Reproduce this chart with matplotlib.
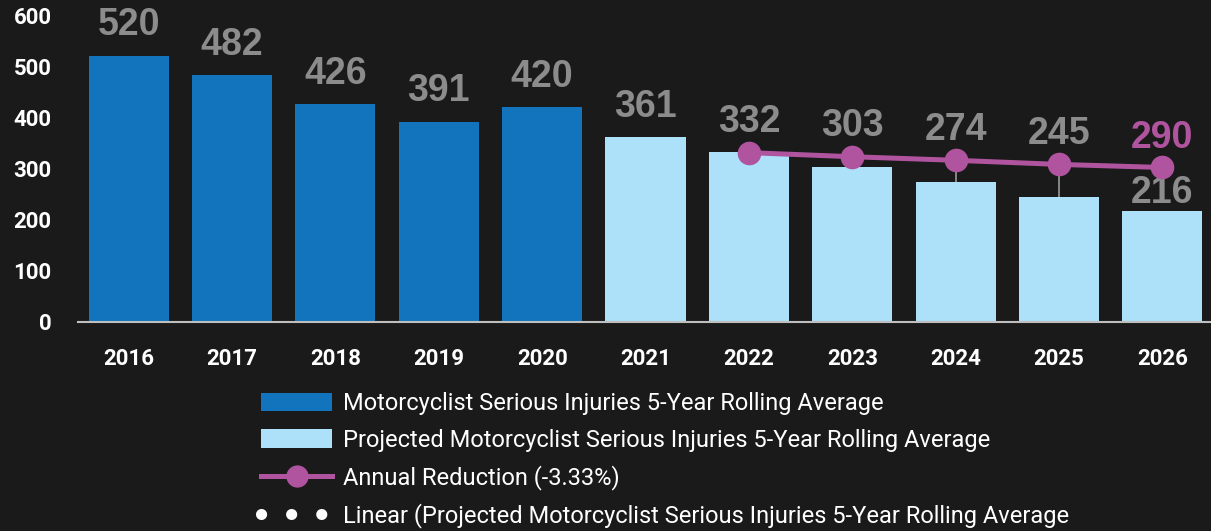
import numpy as np
import matplotlib.pyplot as plt
from matplotlib.lines import Line2D
from matplotlib.patches import Patch

# Datos
years = ['2016', '2017', '2018', '2019', '2020', '2021', '2022', '2023', '2024', '2025', '2026']
actual = [520, 482, 426, 391, 420]
projected = [361, 332, 303, 274, 245, 216]
line_years = ['2022', '2023', '2024', '2025', '2026']
reduction = [331, 323, 316, 308, 302]
reduction_end_label = '290'

bg = '#1a1a1a'
dark_blue = '#1174bd'
light_blue = '#ade0f9'
magenta = '#b054a0'
label_gray = '#8c8c8c'

plt.rcParams['font.family'] = ['Roboto', 'DejaVu Sans']

fig = plt.figure(figsize=(12.11, 5.31), dpi=100, facecolor=bg)
ax = fig.add_axes([78 / 1211, (531 - 322) / 531, 1 - 78 / 1211, 307 / 531])
ax.set_facecolor(bg)

x = np.arange(len(years))
n_act = len(actual)
values = actual + projected
colors = [dark_blue] * n_act + [light_blue] * len(projected)
ax.bar(x, values, width=0.775, color=colors, zorder=2)

# Línea de reducción anual
xl = np.array([years.index(y) for y in line_years])
ax.plot(xl, reduction, color=magenta, lw=3.6, marker='o', ms=16, zorder=4)

# Líneas verticales entre barra y línea (la última queda tapada por la etiqueta)
for xi, r in zip(xl[:-1], reduction[:-1]):
    if r > values[xi]:
        ax.vlines(xi, values[xi], r, color='#9a9a9a', lw=1.2, zorder=3)

# Etiquetas de datos
lab_kw = dict(textcoords='offset points', ha='center', va='bottom', fontsize=27,
              fontweight='bold', family='Liberation Sans')
line_map = dict(zip(xl, reduction))
for xi, v in enumerate(values):
    if xi == len(values) - 1:
        ax.annotate(str(v), (xi, v), xytext=(0, 0), color=label_gray, **lab_kw)
        continue
    top = max(v, line_map.get(xi, 0))
    ax.annotate(str(v), (xi, top), xytext=(0, 9), color=label_gray, **lab_kw)
ax.annotate(reduction_end_label, (xl[-1], reduction[-1]), xytext=(0, 8),
            color=magenta, **lab_kw)

ax.set_xlim(-0.49, 10.47)
ax.set_ylim(0, 600)
ax.set_yticks(range(0, 601, 100))
ax.set_xticks(x)
ax.set_xticklabels(years)
ax.tick_params(axis='both', length=0, labelcolor='white', labelsize=16)
ax.tick_params(axis='x', pad=19)
ax.tick_params(axis='y', pad=19)
for lab in ax.get_xticklabels() + ax.get_yticklabels():
    lab.set_fontweight('bold')
for s in ['top', 'right', 'left']:
    ax.spines[s].set_visible(False)
ax.spines['bottom'].set_color('#bfbfbf')
ax.spines['bottom'].set_linewidth(1.5)
ax.spines['bottom'].set_zorder(5)

# Leyenda
handles = [
    Patch(facecolor=dark_blue),
    Patch(facecolor=light_blue),
    Line2D([], [], color=magenta, lw=3.6, marker='o', ms=15),
    Line2D([], [], color='white', lw=8, ls=(0, (0.01, 2.7)), dash_capstyle='round'),
]
labels = [
    'Motorcyclist Serious Injuries 5-Year Rolling Average',
    'Projected Motorcyclist Serious Injuries 5-Year Rolling Average',
    'Annual Reduction (-3.33%)',
    'Linear (Projected Motorcyclist Serious Injuries 5-Year Rolling Average',
]
leg = fig.legend(handles, labels, loc='upper left', bbox_to_anchor=(240 / 1211, 1 - 371 / 531),
                 frameon=False, fontsize=17, labelcolor='white', handlelength=3.0,
                 handleheight=0.8, labelspacing=0.57, handletextpad=0.45, numpoints=1)

plt.savefig('out.png', dpi=100, facecolor=bg)
